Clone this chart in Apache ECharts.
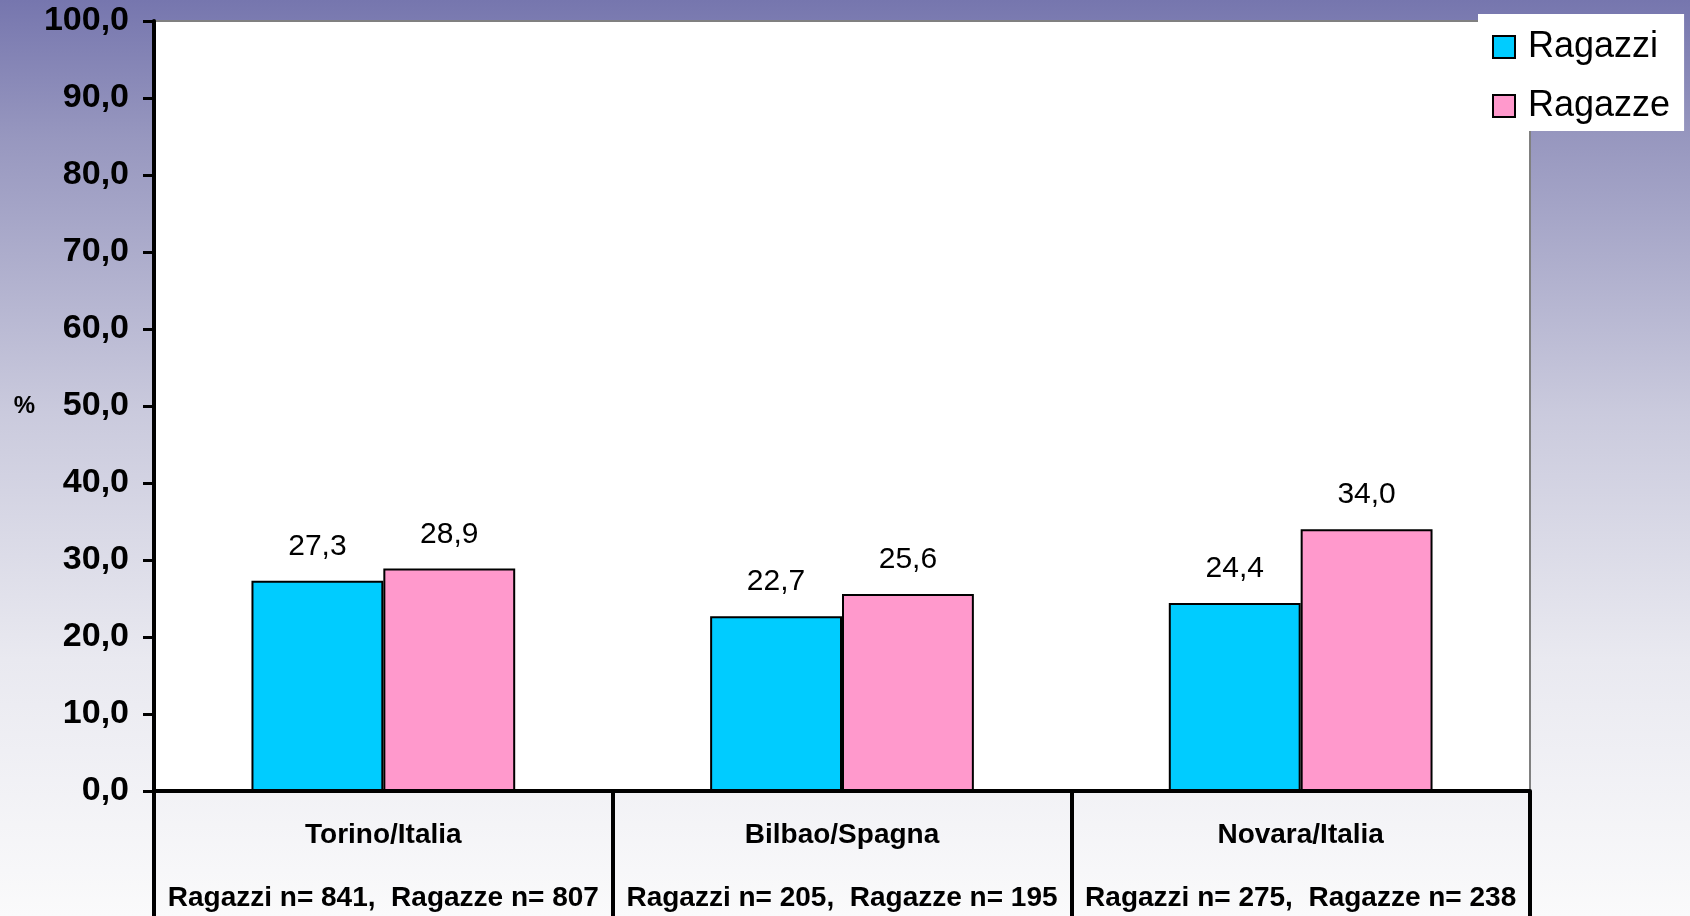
<!DOCTYPE html>
<html>
<head>
<meta charset="utf-8">
<script src="https://cdn.jsdelivr.net/npm/echarts@6/dist/echarts.min.js"></script>
<style>
html, body { margin: 0; padding: 0; }
#chart {
  width: 1690px; height: 916px;
  background: linear-gradient(to bottom, #7676ae 0%, #9797bf 15%, #cacadd 45%, #e9e9f0 72%, #fafafb 100%);
}
</style>
</head>
<body>
<div id="chart"></div>
<script>
const categories = ['Torino/Italia', 'Bilbao/Spagna', 'Novara/Italia'];
const sampleSizes = ['Ragazzi n= 841,  Ragazze n= 807', 'Ragazzi n= 205,  Ragazze n= 195', 'Ragazzi n= 275,  Ragazze n= 238'];
const seriesNames = ['Ragazzi', 'Ragazze'];
const ragazzi = [27.3, 22.7, 24.4];
const ragazze = [28.9, 25.6, 34.0];
const yMin = 0, yMax = 100, yStep = 10;

const FONT = "'Liberation Sans', Arial, sans-serif";
const fmt = v => Number(v).toFixed(1).replace('.', ',');

const chart = echarts.init(document.getElementById('chart'), null, { renderer: 'canvas' });

const barBase = {
  type: 'bar',
  barGap: '0%',
  barCategoryGap: '42.5%',
  label: {
    show: true,
    position: 'top',
    distance: 19,
    fontFamily: FONT,
    fontSize: 30,
    color: '#000',
    formatter: p => fmt(p.value)
  }
};

chart.setOption({
  backgroundColor: 'transparent',
  animation: false,
  grid: {
    left: 154, top: 21, right: 160, bottom: 125,
    show: true, backgroundColor: '#ffffff', borderColor: '#808080', borderWidth: 2
  },
  legend: {
    left: 1478, top: 14,
    orient: 'vertical',
    backgroundColor: '#ffffff',
    padding: [15, 14, 7, 14],
    icon: 'rect',
    itemWidth: 22, itemHeight: 22,
    itemGap: 23,
    itemStyle: { borderColor: '#000', borderWidth: 2 },
    textStyle: { fontFamily: FONT, fontSize: 36, color: '#000', padding: [0, 0, 0, 8] },
    data: seriesNames
  },
  xAxis: {
    type: 'category',
    data: categories,
    axisLine: { show: true, lineStyle: { color: '#000', width: 4 } },
    axisTick: { show: true, length: 135, lineStyle: { color: '#000', width: 4 } },
    axisLabel: {
      margin: 13,
      interval: 0,
      formatter: (v, i) => '{a|' + v + '}\n{b|' + sampleSizes[i] + '}',
      rich: {
        a: { fontFamily: FONT, fontSize: 28, fontWeight: 'bold', color: '#000', lineHeight: 63 },
        b: { fontFamily: FONT, fontSize: 28, fontWeight: 'bold', color: '#000', lineHeight: 63 }
      }
    },
    splitLine: { show: false }
  },
  yAxis: {
    type: 'value',
    min: yMin, max: yMax, interval: yStep,
    name: '%',
    nameLocation: 'middle',
    nameGap: 119,
    nameRotate: 0,
    nameTextStyle: { fontFamily: FONT, fontSize: 24, fontWeight: 'bold', color: '#000' },
    axisLine: { show: true, lineStyle: { color: '#000', width: 4 } },
    axisTick: { show: true, length: 11, lineStyle: { color: '#000', width: 3 } },
    axisLabel: {
      margin: 25,
      fontFamily: FONT, fontSize: 34, fontWeight: 'bold', color: '#000',
      formatter: v => fmt(v)
    },
    splitLine: { show: false }
  },
  series: [
    Object.assign({}, barBase, {
      name: seriesNames[0],
      data: ragazzi,
      itemStyle: { color: '#00ccff', borderColor: '#000', borderWidth: 2 }
    }),
    Object.assign({}, barBase, {
      name: seriesNames[1],
      data: ragazze,
      itemStyle: { color: '#ff99cc', borderColor: '#000', borderWidth: 2 }
    })
  ]
});
</script>
</body>
</html>
